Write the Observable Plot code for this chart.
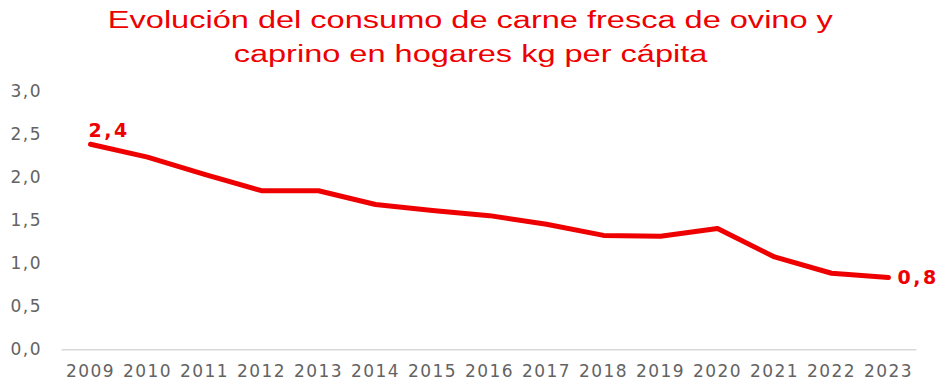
<!DOCTYPE html>
<html>
<head>
<meta charset="utf-8">
<script src="https://cdn.jsdelivr.net/npm/d3@7"></script>
<script src="https://cdn.jsdelivr.net/npm/@observablehq/plot@0.6"></script>
<style>
  html, body { margin: 0; padding: 0; background: #fff; width: 940px; height: 385px; overflow: hidden; }
  #title { height: 75px; box-sizing: border-box; padding-top: 2.5px; text-align: center; color: #ee0000;
    font-family: "Liberation Sans", "Arial", sans-serif; font-size: 23px; line-height: 34px; }
  #title span { display: inline-block; transform-origin: center; white-space: nowrap; }
</style>
</head>
<body>
<div id="title"><span id="t1">Evolución del consumo de carne fresca de ovino y</span><br><span id="t2">caprino en hogares kg per cápita</span></div>
<div id="chart"></div>
<script>
const years = ["2009","2010","2011","2012","2013","2014","2015","2016","2017","2018","2019","2020","2021","2022","2023"];
const consumo = [2.39, 2.24, 2.04, 1.85, 1.85, 1.69, 1.62, 1.56, 1.46, 1.33, 1.32, 1.41, 1.08, 0.89, 0.84];
const yTicks = [0, 0.5, 1, 1.5, 2, 2.5, 3];
const labelFirst = "2,4";
const labelLast = "0,8";

const data = years.map((y, i) => ({year: y, value: consumo[i]}));
const fmt = v => v.toFixed(1).replace(".", ",");
const red = "#ee0000";

// stretch title horizontally to match the reference's wide lettering
const t1 = document.getElementById("t1"), t2 = document.getElementById("t2");
const s = 725 / t1.getBoundingClientRect().width;
t1.style.transform = `scaleX(${s})`;
t2.style.transform = `scaleX(${s})`;

const chart = Plot.plot({
  width: 940,
  height: 310,
  marginLeft: 61.5,
  marginRight: 23.5,
  marginTop: 16.3,
  marginBottom: 35.7,
  style: { fontFamily: "DejaVu Sans, sans-serif", background: "#fff" },
  x: { type: "point", domain: years, padding: 0.5, label: null },
  y: { domain: [0, 3], label: null },
  marks: [
    Plot.ruleY([0], { stroke: "#d9d9d9", strokeWidth: 1.5 }),
    Plot.axisY({ ticks: yTicks, tickSize: 0, tickPadding: 20, tickFormat: fmt, fontSize: 17, fill: "#636363", label: null, className: "ticklab" }),
    Plot.axisX({ tickSize: 0, tickPadding: 15, fontSize: 17, fill: "#636363", label: null, className: "ticklab" }),
    Plot.line(data, { x: "year", y: "value", stroke: red, strokeWidth: 5, strokeLinejoin: "round", strokeLinecap: "round" }),
    Plot.text([data[0]], { x: "year", y: "value", text: () => labelFirst, fill: red, fontWeight: "bold", fontSize: 19, textAnchor: "start", lineAnchor: "bottom", dx: -2, dy: -7, className: "dlabel" }),
    Plot.text([data[data.length - 1]], { x: "year", y: "value", text: () => labelLast, fill: red, fontWeight: "bold", fontSize: 19, textAnchor: "start", lineAnchor: "middle", dx: 9, dy: 0, className: "dlabel" })
  ]
});
document.getElementById("chart").appendChild(chart);
d3.select(chart).selectAll("text").filter(function() { return !this.closest(".dlabel"); }).style("letter-spacing", "1.5px");
d3.select(chart).selectAll(".dlabel text").style("letter-spacing", "2.5px");
</script>
</body>
</html>
